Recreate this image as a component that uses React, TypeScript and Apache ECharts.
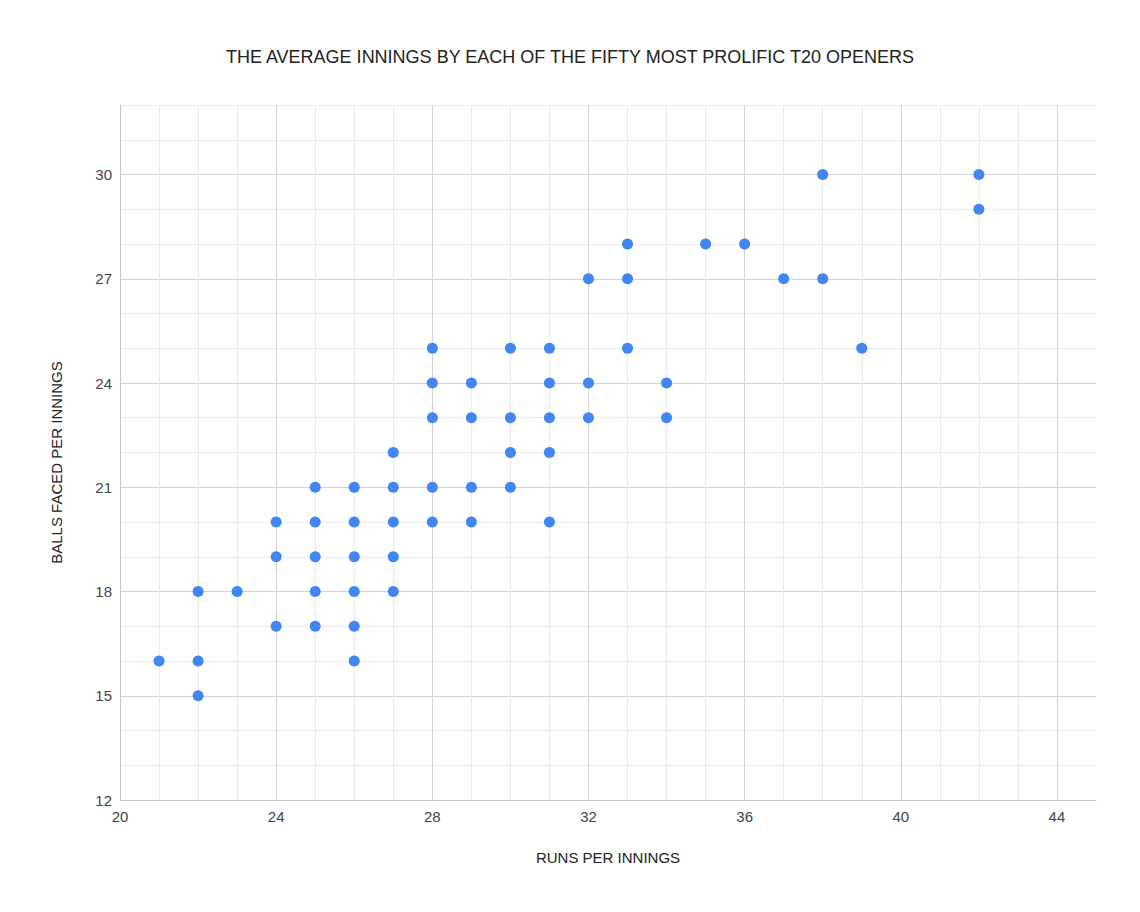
import React, { useEffect, useRef } from "react";
import * as echarts from "echarts";

const title = "THE AVERAGE INNINGS BY EACH OF THE FIFTY MOST PROLIFIC T20 OPENERS";
const xAxisName = "RUNS PER INNINGS";
const yAxisName = "BALLS FACED PER INNINGS";

// runs per innings
const runs = [
  21,
  22, 22, 22,
  23,
  24, 24, 24,
  25, 25, 25, 25, 25,
  26, 26, 26, 26, 26, 26,
  27, 27, 27, 27, 27,
  28, 28, 28, 28, 28,
  29, 29, 29, 29,
  30, 30, 30, 30,
  31, 31, 31, 31, 31,
  32, 32, 32,
  33, 33, 33,
  34, 34,
  35,
  36,
  37,
  38, 38,
  39,
  42, 42,
];
// balls faced per innings
const balls = [
  16,
  18, 16, 15,
  18,
  20, 19, 17,
  21, 20, 19, 18, 17,
  21, 20, 19, 18, 17, 16,
  22, 21, 20, 19, 18,
  25, 24, 23, 21, 20,
  24, 23, 21, 20,
  25, 23, 22, 21,
  25, 24, 23, 22, 20,
  27, 24, 23,
  28, 27, 25,
  24, 23,
  28,
  28,
  27,
  30, 27,
  25,
  30, 29,
];

const X_MIN = 20;
const X_MAX = 45;
const X_MAJOR = 4;
const Y_MIN = 12;
const Y_MAX = 32;
const Y_MAJOR = 3;

export default function App() {
  const ref = useRef<HTMLDivElement>(null);
  useEffect(() => {
    if (!ref.current) return;
    const chart = echarts.init(ref.current, undefined, { renderer: "svg" });
    const data = runs.map((r, i) => [r, balls[i]]);
    const font = "Arial, 'Liberation Sans', sans-serif";
    const minorColor = "#ebebeb";
    const majorColor = "#d4d4d4";
    chart.setOption({
      animation: false,
      backgroundColor: "#ffffff",
      textStyle: { fontFamily: font },
      title: {
        text: title,
        left: "center",
        top: 43,
        textStyle: { fontSize: 18, fontWeight: "normal", color: "#222222", fontFamily: font },
      },
      grid: { left: 120, right: 44, top: 105, bottom: 112, containLabel: false },
      xAxis: [
        {
          type: "value",
          min: X_MIN,
          max: X_MAX,
          interval: 1,
          position: "bottom",
          axisLine: { show: false },
          axisTick: { show: false },
          axisLabel: { show: false },
          splitLine: { show: true, showMaxLine: false, lineStyle: { color: minorColor, width: 1 } },
        },
        {
          type: "value",
          min: X_MIN,
          max: X_MAX,
          interval: X_MAJOR,
          position: "bottom",
          name: xAxisName,
          nameLocation: "middle",
          nameGap: 50,
          nameTextStyle: { fontSize: 15, color: "#222222", fontFamily: font },
          axisLine: { show: true, onZero: false, lineStyle: { color: "#c6c6c6", width: 1 } },
          axisTick: { show: false },
          axisLabel: {
            margin: 9,
            fontSize: 15,
            color: "#444444",
            fontFamily: font,
            formatter: (v: number) => ((v - X_MIN) % X_MAJOR === 0 ? String(v) : ""),
          },
          splitLine: { show: true, showMinLine: false, showMaxLine: false, lineStyle: { color: majorColor, width: 1 } },
        },
      ],
      yAxis: [
        {
          type: "value",
          min: Y_MIN,
          max: Y_MAX,
          interval: 1,
          position: "left",
          axisLine: { show: false },
          axisTick: { show: false },
          axisLabel: { show: false },
          splitLine: { show: true, lineStyle: { color: minorColor, width: 1 } },
        },
        {
          type: "value",
          min: Y_MIN,
          max: Y_MAX,
          interval: Y_MAJOR,
          position: "left",
          name: yAxisName,
          nameLocation: "middle",
          nameGap: 56,
          nameTextStyle: { fontSize: 15, color: "#222222", fontFamily: font, padding: [0, 20, 0, 0] },
          axisLine: { show: true, onZero: false, lineStyle: { color: "#c6c6c6", width: 1 } },
          axisTick: { show: false },
          axisLabel: {
            margin: 8,
            fontSize: 15,
            color: "#444444",
            fontFamily: font,
            formatter: (v: number) => ((v - Y_MIN) % Y_MAJOR === 0 ? String(v) : ""),
          },
          splitLine: { show: true, showMinLine: false, showMaxLine: false, lineStyle: { color: majorColor, width: 1 } },
        },
      ],
      series: [
        {
          type: "scatter",
          xAxisIndex: 1,
          yAxisIndex: 1,
          data,
          symbol: "circle",
          symbolSize: 11,
          itemStyle: { color: "#4285f4", opacity: 1 },
          z: 5,
        },
      ],
    });
    return () => chart.dispose();
  }, []);
  return (
    <div
      ref={ref}
      style={{ position: "fixed", left: 0, top: 0, width: 1140, height: 912, background: "#fff" }}
    />
  );
}
